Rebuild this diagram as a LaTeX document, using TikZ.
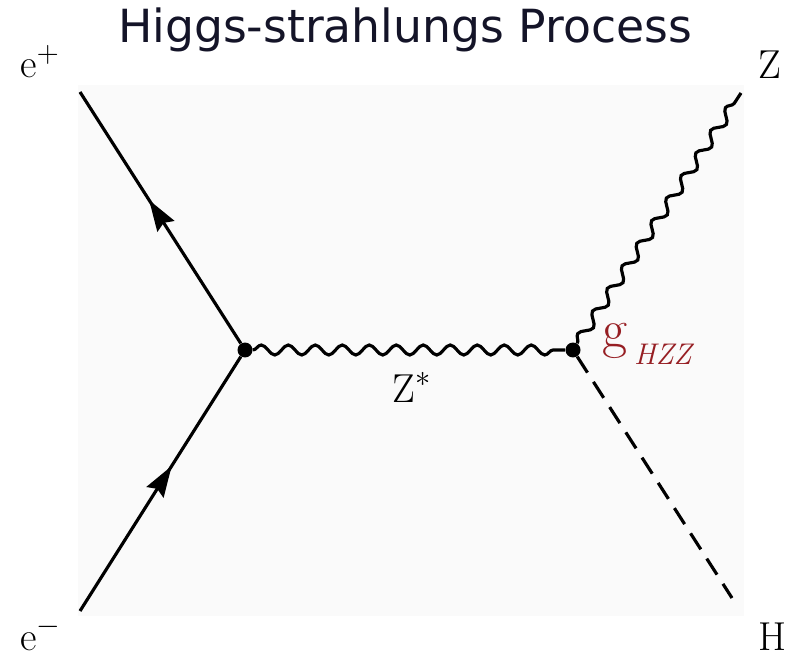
\documentclass[tikz,border=0pt]{standalone}
\usepackage{fontspec}
\newfontfamily\titlefont{DejaVu Sans}
\usetikzlibrary{arrows.meta,decorations.pathmorphing,decorations.markings}
\definecolor{panelcol}{RGB}{250,250,250}
\definecolor{couplingcol}{RGB}{150,30,35}
\definecolor{titlecol}{RGB}{20,20,40}

\begin{document}
\begin{tikzpicture}[x=0.02cm, y=-0.02cm,
    fermion/.style={line width=1.8pt, postaction={decorate},
      decoration={markings, mark=at position 0.57 with {\arrow{Stealth[length=0.62cm, width=0.4cm, inset=0.08cm]}}}},
    boson/.style={line width=1.8pt, decorate,
      decoration={snake, segment length=0.54cm, amplitude=0.1cm}},
    scalar/.style={line width=1.8pt, dash pattern=on 0.38cm off 0.22cm},
    vtx/.style={circle, fill=black, inner sep=0pt, minimum size=0.3cm},
    lbl/.style={font=\fontsize{23}{26}\selectfont, inner sep=0pt, anchor=base west},
]
\useasboundingbox (0,0) rectangle (794,658);
\fill[panelcol] (78,85) rectangle (744,616);

\node[font=\titlefont\fontsize{26}{30}\selectfont, text=titlecol, inner sep=0pt, anchor=base] (title) at (405,43) {Higgs-strahlungs Process};

\node[vtx] (v1) at (245,350) {};
\node[vtx] (v2) at (573,350) {};
\coordinate (ep) at (80,92);
\coordinate (em) at (80,611);
\coordinate (zo) at (741,93);
\coordinate (ho) at (732,598);

\draw[fermion] (em) -- (v1);
\draw[fermion] (v1) -- (ep);
\draw[boson] (v1) -- (v2);
\draw[boson] (v2) -- (zo);
\draw[scalar] (v2) -- (ho);

\node[lbl] (lep) at (20,78) {e$^+$};
\node[lbl] (lem) at (20,650) {e$^-$};
\node[lbl] (lz) at (758,79) {Z};
\node[lbl] (lh) at (758,650) {H};
\node[lbl] (lzs) at (392,402) {Z$^*$};
\node[lbl, text=couplingcol] (lg) at (602,348)
  {{\fontsize{31}{31}\selectfont g}\,\raisebox{-9.5pt}{\fontsize{17}{17}\selectfont\itshape HZZ}};
\end{tikzpicture}
\end{document}
